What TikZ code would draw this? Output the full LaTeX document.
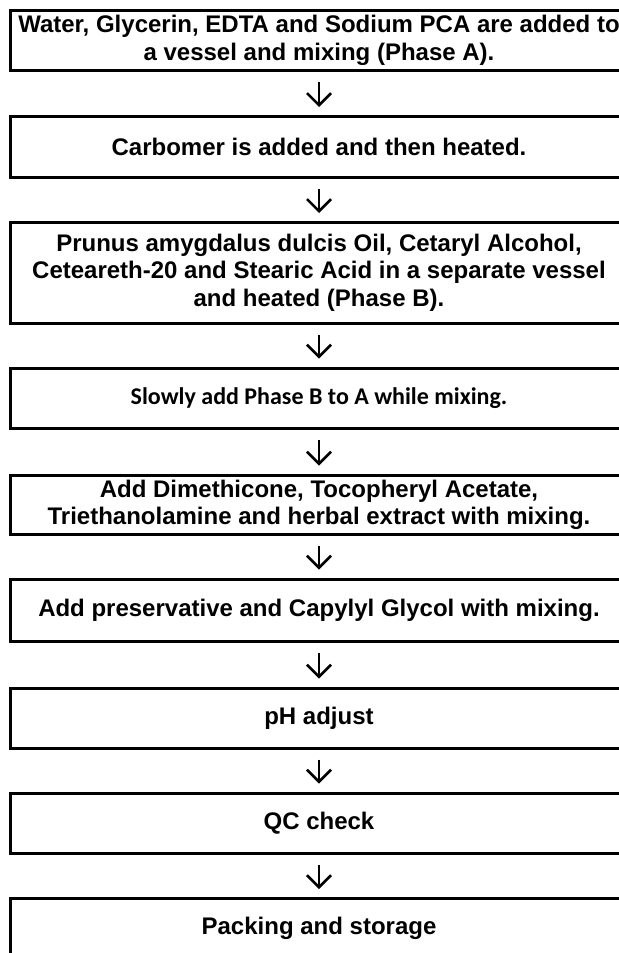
\documentclass[tikz,border=0pt]{standalone}
\usepackage{fontspec}
\setmainfont{Liberation Sans}
\newfontfamily\calibrifont{Carlito}
\usetikzlibrary{arrows.meta}

\begin{document}
\begin{tikzpicture}[x=0.5pt, y=-0.5pt,
    stepbox/.style={draw, line width=1.5pt, minimum width=308.5pt, minimum height=30pt,
        inner sep=0pt, align=center, font=\fontsize{12}{13.8}\selectfont\bfseries},
    flow/.style={-{Straight Barb[length=6pt,width=12pt]}, line width=1.3pt,
        shorten <=5pt, shorten >=4pt}]
    \useasboundingbox (0,0) rectangle (619,953);
    % Phase A
    \node[stepbox] (water) at (319,40.5) {Water, Glycerin, EDTA and Sodium PCA are added to\\a vessel and mixing (Phase A).};
    % Carbomer
    \node[stepbox, minimum height=30.5pt] (carbomer) at (319,147) {Carbomer is added and then heated.};
    % Phase B
    \node[stepbox, minimum height=50.25pt] (phaseb) at (319,272.75) {Prunus amygdalus dulcis Oil, Cetaryl Alcohol,\\Ceteareth-20 and Stearic Acid in a separate vessel\\and heated (Phase B).};
    % B into A
    \node[stepbox, minimum height=30.25pt, font=\fontsize{12}{13.8}\calibrifont\bfseries] (combine) at (319,398.25) {Slowly add Phase B to A while mixing.};
    % Actives
    \node[stepbox, minimum height=29.75pt] (actives) at (319,504.75) {Add Dimethicone, Tocopheryl Acetate,\\Triethanolamine and herbal extract with mixing.};
    % Preservative
    \node[stepbox, minimum height=31.25pt] (preserve) at (319,610.25) {Add preservative and Capylyl Glycol with mixing.};
    % pH
    \node[stepbox] (ph) at (319,718) {pH adjust};
    % QC
    \node[stepbox] (qc) at (319,823) {QC check};
    % Packing
    \node[stepbox] (pack) at (319,928.5) {Packing and storage};
    % Arrows
    \draw[flow] (water.south) -- (carbomer.north);
    \draw[flow] (carbomer.south) -- (phaseb.north);
    \draw[flow] (phaseb.south) -- (combine.north);
    \draw[flow] (combine.south) -- (actives.north);
    \draw[flow] (actives.south) -- (preserve.north);
    \draw[flow] (preserve.south) -- (ph.north);
    \draw[flow] (ph.south) -- (qc.north);
    \draw[flow] (qc.south) -- (pack.north);
\end{tikzpicture}
\end{document}
